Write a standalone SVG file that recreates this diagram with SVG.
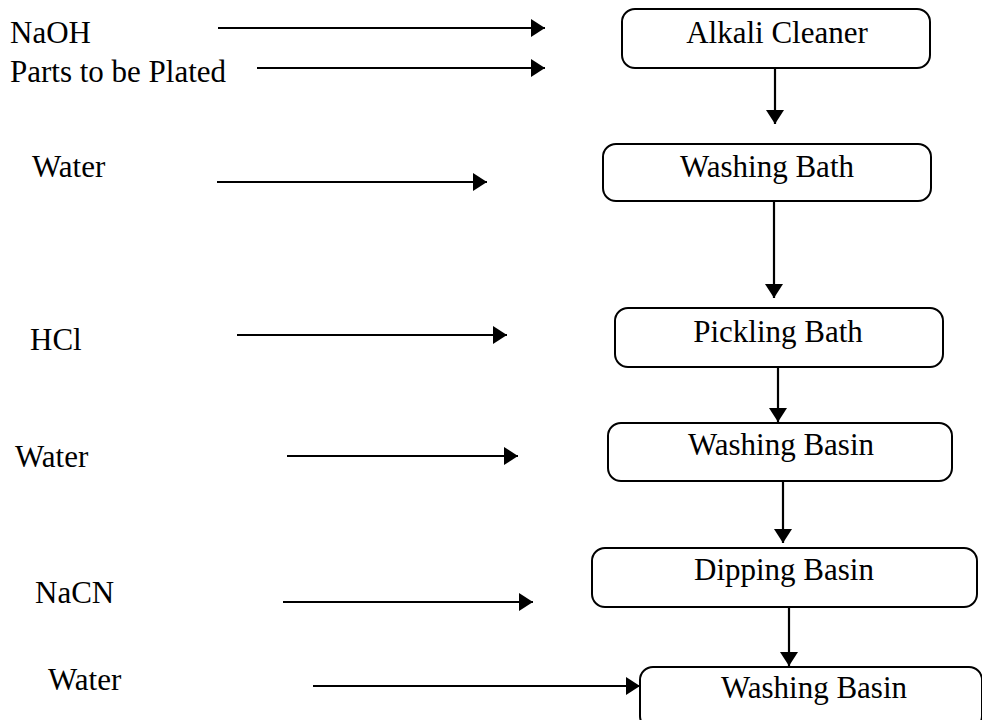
<svg xmlns="http://www.w3.org/2000/svg" width="982" height="720" viewBox="0 0 982 720">
  <style>
    .label { font-family: "Liberation Serif", "Times New Roman", serif; font-size: 31px; fill: #000; }
    .box rect { fill: #fff; stroke: #000; stroke-width: 2; }
    .box text { font-family: "Liberation Serif", "Times New Roman", serif; font-size: 31px; fill: #000; text-anchor: middle; }
    .conn line { stroke: #000; stroke-width: 2.2; fill: none; marker-end: url(#head); }
  </style>
  <defs>
    <marker id="head" markerUnits="userSpaceOnUse" markerWidth="16" markerHeight="20" refX="14" refY="9" orient="auto">
      <path d="M0,0 L14,9 L0,18 Z" fill="#000"/>
    </marker>
  </defs>

  <rect width="982" height="720" fill="#fff"/>

  <!-- input labels -->
  <g id="inputs">
    <text class="label" x="10" y="43">NaOH</text>
    <text class="label" x="10" y="82">Parts to be Plated</text>
    <text class="label" x="32" y="177">Water</text>
    <text class="label" x="30" y="350">HCl</text>
    <text class="label" x="15" y="467">Water</text>
    <text class="label" x="35" y="603">NaCN</text>
    <text class="label" x="48" y="690">Water</text>
  </g>

  <!-- process steps -->
  <g id="alkali-cleaner" class="box">
    <rect x="622" y="9" width="308" height="59" rx="13"/>
    <text x="777" y="43">Alkali Cleaner</text>
  </g>
  <g id="washing-bath" class="box">
    <rect x="603" y="144" width="328" height="57" rx="13"/>
    <text x="767" y="177">Washing Bath</text>
  </g>
  <g id="pickling-bath" class="box">
    <rect x="615" y="308" width="328" height="59" rx="13"/>
    <text x="778" y="342">Pickling Bath</text>
  </g>
  <g id="washing-basin-1" class="box">
    <rect x="608" y="423" width="344" height="58" rx="13"/>
    <text x="781" y="455">Washing Basin</text>
  </g>
  <g id="dipping-basin" class="box">
    <rect x="592" y="548" width="385" height="59" rx="13"/>
    <text x="784" y="580">Dipping Basin</text>
  </g>
  <g id="washing-basin-2" class="box">
    <rect x="640" y="667" width="342" height="62" rx="13"/>
    <text x="814" y="698">Washing Basin</text>
  </g>

  <!-- connectors -->
  <g id="connectors" class="conn">
    <line x1="218" y1="28" x2="545" y2="28"/>
    <line x1="257" y1="68" x2="545" y2="68"/>
    <line x1="217" y1="182" x2="487" y2="182"/>
    <line x1="237" y1="335" x2="507" y2="335"/>
    <line x1="287" y1="456" x2="518" y2="456"/>
    <line x1="283" y1="602" x2="533" y2="602"/>
    <line x1="313" y1="686" x2="640" y2="686"/>

    <line x1="775" y1="68" x2="775" y2="124"/>
    <line x1="774" y1="201" x2="774" y2="298"/>
    <line x1="778" y1="367" x2="778" y2="422"/>
    <line x1="783" y1="481" x2="783" y2="543"/>
    <line x1="789" y1="607" x2="789" y2="666"/>
  </g>
</svg>
